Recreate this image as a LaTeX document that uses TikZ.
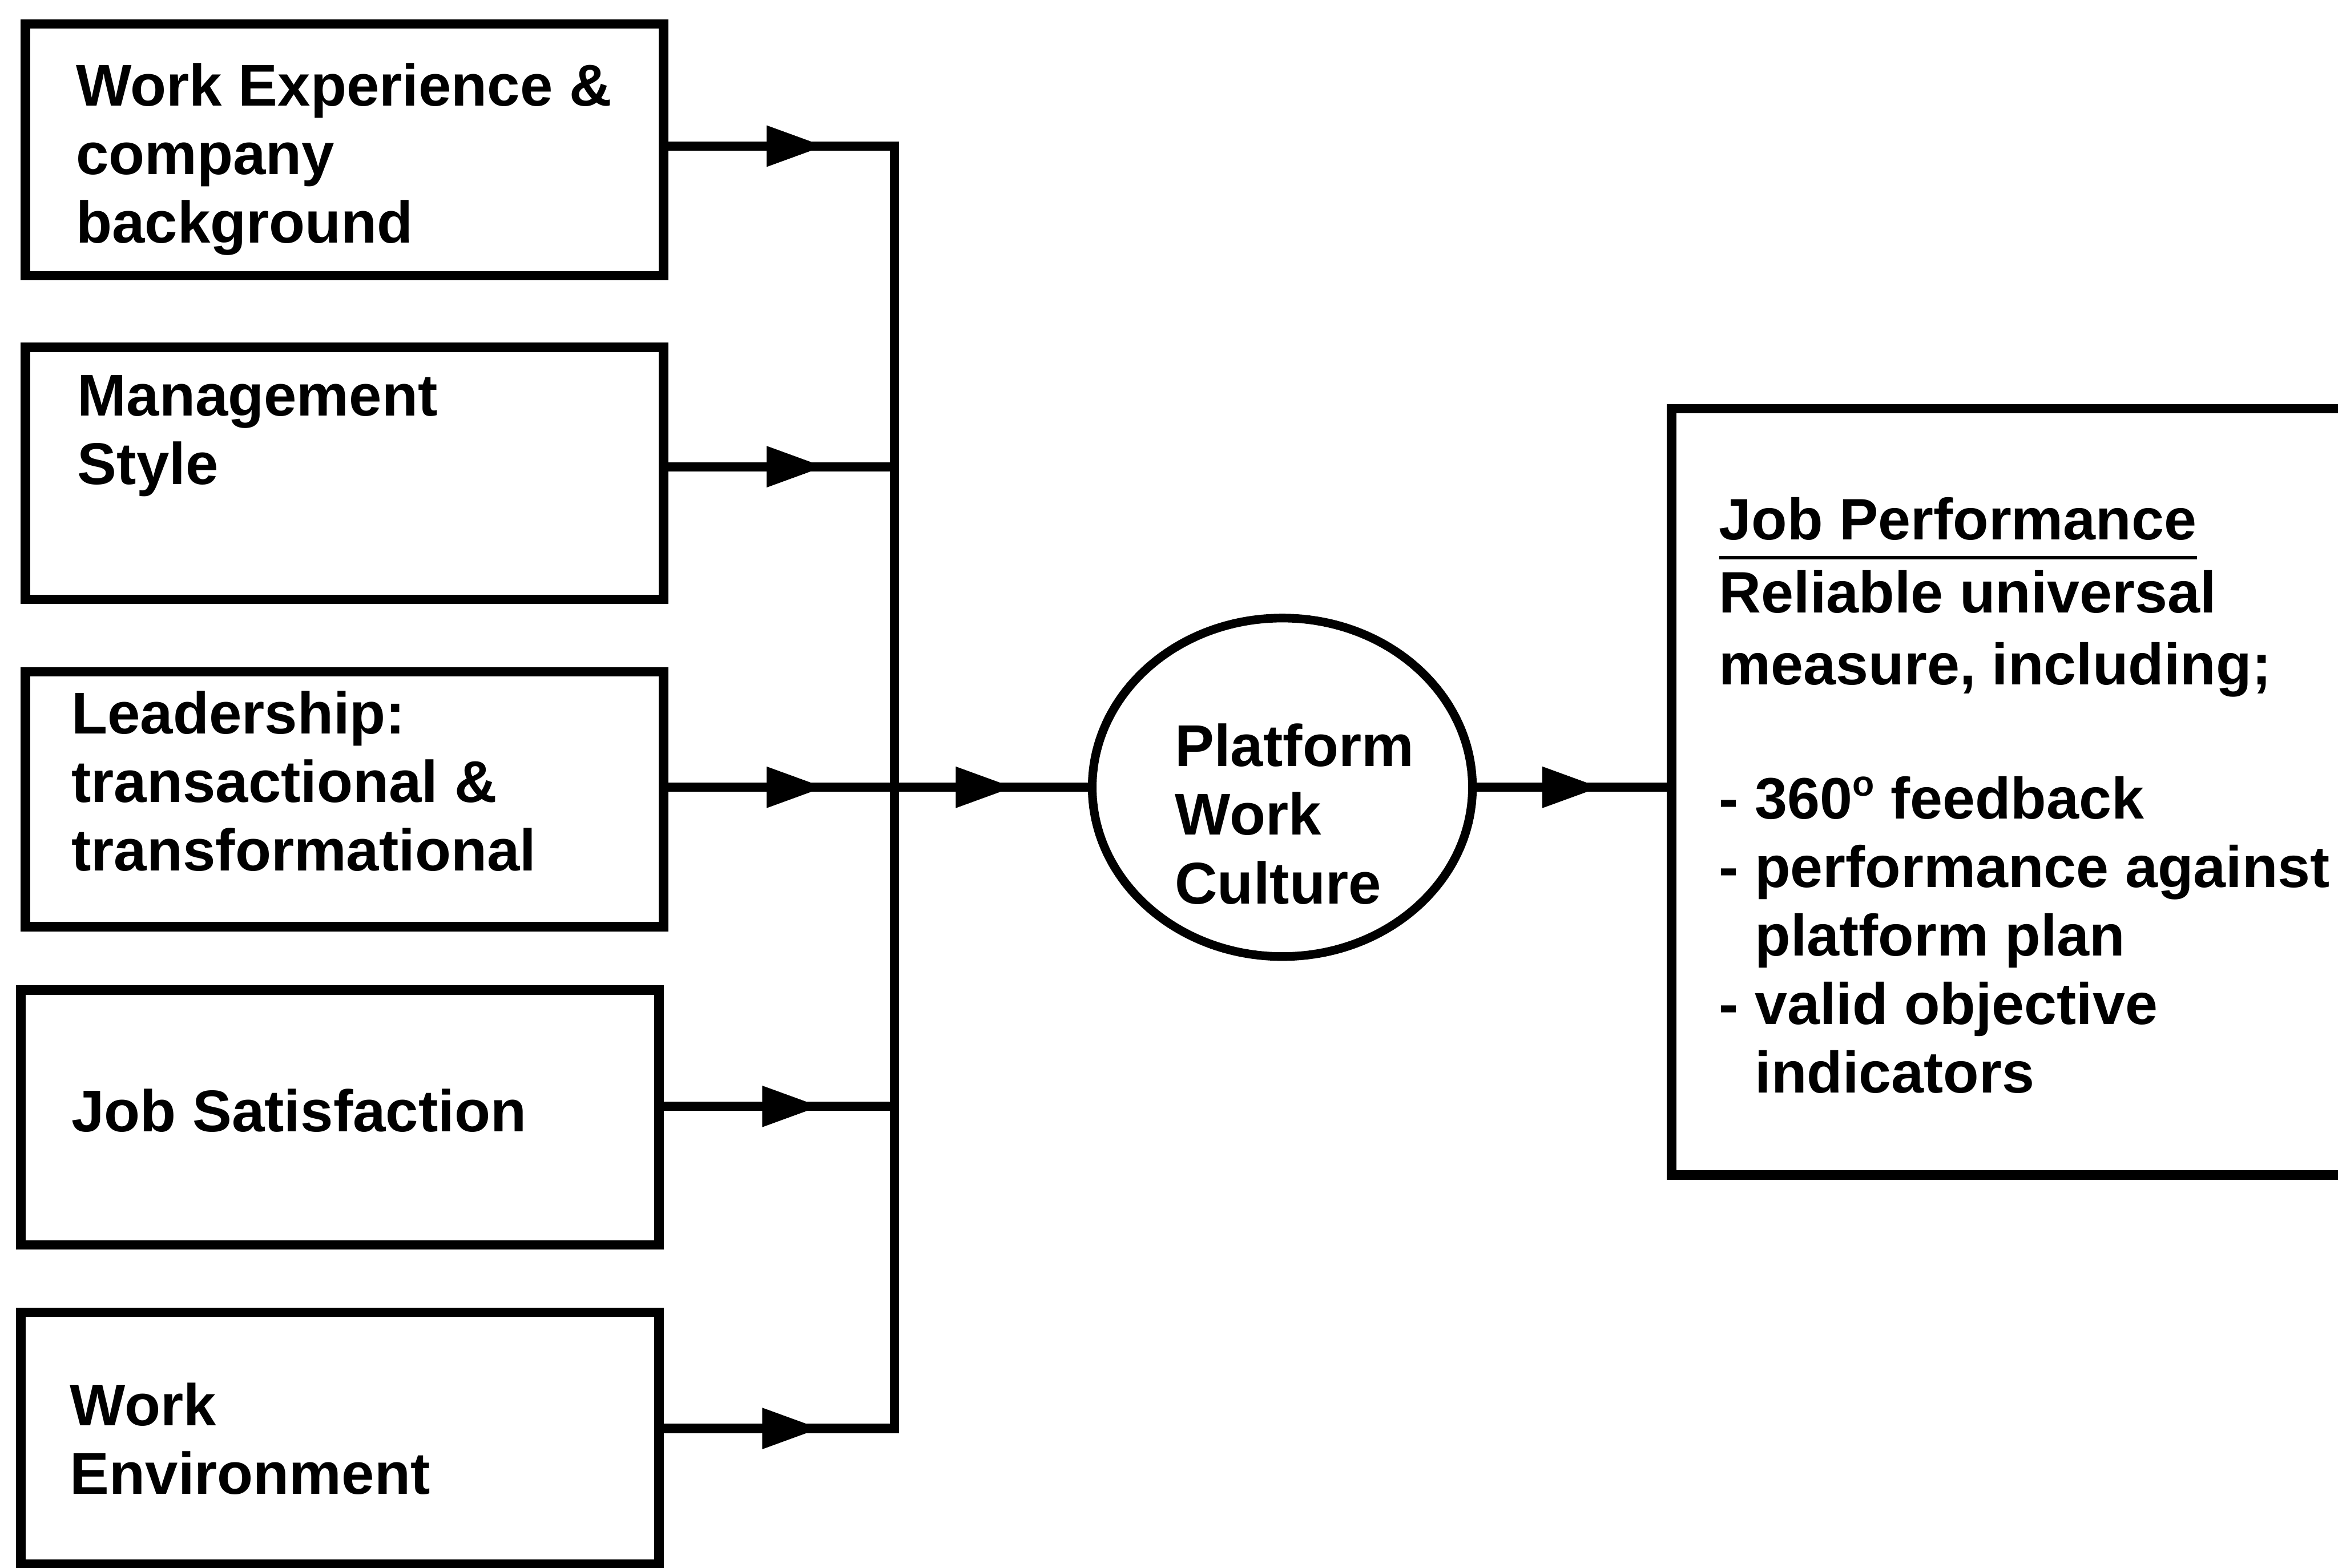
\documentclass[tikz,border=0pt]{standalone}
\usepackage{fontspec}
\setmainfont{Liberation Sans}
\usetikzlibrary{arrows.meta,decorations.markings,shapes.geometric}
\newcommand\myul[1]{\setbox0=\hbox{#1}\rlap{\rule[-13.3pt]{\wd0}{2.6pt}}\box0}
\begin{document}
\begin{tikzpicture}[x=1pt,y=-1pt,
  box/.style={draw, line width=6.3pt, rectangle, inner sep=0pt},
  oval/.style={draw, line width=5.8pt, ellipse, inner sep=0pt},
  lbl/.style={inner sep=0pt, outer sep=0pt, align=left, anchor=base west,
              font=\fontsize{39.5}{46}\selectfont\bfseries},
  conn/.style={line width=6.2pt, line cap=rect},
  midarrow/.style={postaction={decorate}, decoration={markings,
      mark=at position #1 with {\arrow{Triangle[length=39pt,width=26pt]}}}}
]
\useasboundingbox (0,0) rectangle (1568,1051.25);

% input boxes
\node[box, minimum width=428, minimum height=169] (b1) at (231,100.5) {};
\node[box, minimum width=428, minimum height=169] (b2) at (231,317.5) {};
\node[box, minimum width=428, minimum height=171] (b3) at (231,536) {};
\node[box, minimum width=428, minimum height=171] (b4) at (228,749.5) {};
\node[box, minimum width=428, minimum height=169] (b5) at (228,964.5) {};

\node[lbl] (t1) at (51,163) {Work Experience \&\\company\\background};
\node[lbl] (t2) at (52,325) {Management\\Style};
\node[lbl] (t3) at (48,584) {Leadership:\\transactional \&\\transformational};
\node[lbl] (t4) at (48,759) {Job Satisfaction};
\node[lbl] (t5) at (47,1002) {Work\\Environment};

% central ellipse
\node[oval, minimum width=255, minimum height=227] (pwc) at (860,528) {};
\node[lbl] (tp) at (788,606) {Platform\\Work\\Culture};

% output box
\node[box, minimum width=526, minimum height=514] (jp) at (1384,531) {};
\node[lbl, font=\fontsize{39.2}{46}\selectfont\bfseries] (tj) at (1153,733) {\myul{Job Performance}\\[3pt]
Reliable universal\\[2pt]
measure, including;\\[44pt]
- 360\raisebox{15pt}{\fontsize{24}{24}\selectfont o} feedback\\
- performance against\\
\hspace*{24pt}platform plan\\
- valid objective\\
\hspace*{24pt}indicators};

% junctions on the bus
\coordinate (j1) at (600,98);
\coordinate (j2) at (600,313);
\coordinate (j3) at (600,528);
\coordinate (j4) at (600,742);
\coordinate (j5) at (600,958);

\draw[conn] (j1) -- (j5);
\draw[conn, midarrow=105pt] (b1.east |- j1) -- (j1);
\draw[conn, midarrow=105pt] (b2.east |- j2) -- (j2);
\draw[conn, midarrow=105pt] (b3.east |- j3) -- (j3);
\draw[conn, midarrow=105pt] (b4.east |- j4) -- (j4);
\draw[conn, midarrow=105pt] (b5.east |- j5) -- (j5);

\draw[conn, midarrow=80pt] (j3) -- (pwc.west);
\draw[conn, midarrow=83pt] (pwc.east) -- (pwc.east -| jp.west);
\end{tikzpicture}
\end{document}
